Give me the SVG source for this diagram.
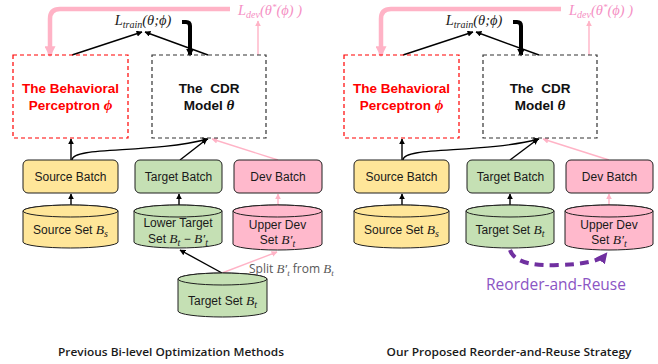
<svg xmlns="http://www.w3.org/2000/svg" width="658" height="364" viewBox="0 0 658 364">
<defs>
<style>
.sans{font-family:"Liberation Sans",Arial,sans-serif;}
.m{font-family:"Liberation Serif","DejaVu Serif",serif;font-style:italic;}
.lbl{font-family:"Liberation Sans",Arial,sans-serif;font-size:12px;fill:#1a1a1a;text-anchor:middle;}
.big{font-family:"Liberation Sans",Arial,sans-serif;font-size:13.5px;font-weight:bold;text-anchor:middle;}
.dbox{fill:none;stroke-width:1.2;stroke-dasharray:4,3;}
.yel{fill:#FFE699;stroke:#1f1f1f;stroke-width:1;}
.grn{fill:#C5E0B4;stroke:#1f1f1f;stroke-width:1;}
.pnk{fill:#FFB9CC;stroke:#1f1f1f;stroke-width:1;}
.bl{fill:none;stroke:#000;stroke-width:1.4;}
.pl{fill:none;stroke:#FFB3C6;stroke-width:1.4;}
.cap{font-family:"Open Sans","Liberation Sans",sans-serif;font-size:11.5px;font-weight:600;fill:#1a1a1a;text-anchor:middle;}
</style>
<marker id="ab" viewBox="0 0 10 10" refX="9" refY="5" markerWidth="6" markerHeight="6" orient="auto" markerUnits="userSpaceOnUse"><path d="M0,0 L10,5 L0,10 z" fill="#000"/></marker>
<marker id="ap" viewBox="0 0 10 10" refX="9" refY="5" markerWidth="6" markerHeight="6" orient="auto" markerUnits="userSpaceOnUse"><path d="M0,0 L10,5 L0,10 z" fill="#FFB3C6"/></marker>
<marker id="apb" viewBox="0 0 10 10" refX="8" refY="5" markerWidth="11" markerHeight="11" orient="auto" markerUnits="userSpaceOnUse"><path d="M0,0 L10,5 L0,10 z" fill="#FFB3C6"/></marker>
<marker id="abb" viewBox="0 0 10 10" refX="8" refY="5" markerWidth="8" markerHeight="8" orient="auto" markerUnits="userSpaceOnUse"><path d="M0,0 L10,5 L0,10 z" fill="#000"/></marker>
<marker id="av" viewBox="0 0 10 10" refX="8" refY="5" markerWidth="11" markerHeight="11" orient="auto" markerUnits="userSpaceOnUse"><path d="M0,0 L10,5 L0,10 z" fill="#7030A0"/></marker>
</defs>
<rect width="658" height="364" fill="#fff"/>

<!-- LEFT PANEL -->
<g id="left-connectors">
<path class="bl" d="M72,55 L142,32" marker-end="url(#ab)"/>
<path class="bl" d="M208,55 L145,32" marker-end="url(#ab)"/>
<path d="M182,22 H186 Q190,22 190,26 V55" fill="none" stroke="#000" stroke-width="4" marker-end="url(#abb)"/>
<path d="M230,9 H60 Q50,9 50,19 V55" fill="none" stroke="#FFB3C6" stroke-width="4.5" marker-end="url(#apb)"/>
<path class="pl" d="M258,55 V21" marker-end="url(#ap)"/>
<path class="bl" d="M71,160 V139" marker-end="url(#ab)"/>
<path class="bl" d="M72,160 C72,146 150,154 208,139" marker-end="url(#ab)"/>
<path class="bl" d="M180,160 L207,139" marker-end="url(#ab)"/>
<path class="pl" d="M278,160 L212,139" marker-end="url(#ap)"/>
<path class="bl" d="M71,205 V194" marker-end="url(#ab)"/>
<path class="bl" d="M179,205 V194" marker-end="url(#ab)"/>
<path class="pl" d="M278,205 V194" marker-end="url(#ap)"/>
<path class="bl" d="M222,273 L180,250" marker-end="url(#ab)"/>
<path class="pl" d="M222,273 L277,252" marker-end="url(#ap)"/>
</g>

<g id="l-ltrain"><text x="143" y="25" font-size="14.5" text-anchor="middle" fill="#1a1a1a"><tspan class="m">L</tspan><tspan class="m" font-size="10" dy="3">train</tspan><tspan class="m" dy="-3">(θ;ϕ)</tspan></text></g>
<g id="l-ldev"><text x="270" y="15" font-size="14.5" text-anchor="middle" fill="#F58FC4"><tspan class="m">L</tspan><tspan class="m" font-size="10" dy="3">dev</tspan><tspan class="m" dy="-3">(θ</tspan><tspan class="m" font-size="9" dy="-5">*</tspan><tspan class="m" dy="5">(ϕ) )</tspan></text></g>

<g id="l-behav">
<rect class="dbox" x="13" y="55" width="115" height="83" stroke="#FF0000"/>
<text class="big" x="70.5" y="93" fill="#FF0000">The Behavioral</text>
<text class="big" x="70.5" y="110" fill="#FF0000">Perceptron <tspan class="m" font-weight="bold" font-size="15">ϕ</tspan></text>
</g>
<g id="l-cdr">
<rect class="dbox" x="152" y="55" width="114" height="83" stroke="#333"/>
<text class="big" x="209" y="93" fill="#111" xml:space="preserve">The  CDR</text>
<text class="big" x="209" y="110" fill="#111">Model <tspan class="m" font-weight="bold" font-size="15">θ</tspan></text>
</g>

<g id="l-srcbatch"><rect class="yel" x="23" y="160" width="95" height="33" rx="5"/><text class="lbl" x="70.5" y="181">Source Batch</text></g>
<g id="l-tgtbatch"><rect class="grn" x="135" y="160" width="87" height="33" rx="5"/><text class="lbl" x="178.5" y="181">Target Batch</text></g>
<g id="l-devbatch"><rect class="pnk" x="234" y="160" width="88" height="33" rx="5"/><text class="lbl" x="278" y="181">Dev Batch</text></g>

<g id="l-srcset">
<path class="yel" d="M23,211 A47.5,6 0 0 1 118,211 V242 A47.5,6 0 0 1 23,242 Z"/>
<ellipse class="yel" cx="70.5" cy="211" rx="47.5" ry="6"/>
<text class="lbl" x="70.5" y="234">Source Set <tspan class="m" font-size="13.5">B</tspan><tspan class="m" font-size="10" dy="3">s</tspan></text>
</g>
<g id="l-lowertgt">
<path class="grn" d="M134,211 A44,6 0 0 1 222,211 V242 A44,6 0 0 1 134,242 Z"/>
<ellipse class="grn" cx="178" cy="211" rx="44" ry="6"/>
<text class="lbl" x="178" y="227">Lower Target</text>
<text class="lbl" x="178" y="243">Set <tspan class="m" font-size="13.5">B</tspan><tspan class="m" font-size="10" dy="3">t</tspan><tspan dy="-3"> − </tspan><tspan class="m" font-size="13.5">B′</tspan><tspan class="m" font-size="10" dy="3">t</tspan></text>
</g>
<g id="l-upperdev">
<path class="pnk" d="M233,211 A44.5,6 0 0 1 322,211 V244 A44.5,6 0 0 1 233,244 Z"/>
<ellipse class="pnk" cx="277.5" cy="211" rx="44.5" ry="6"/>
<text class="lbl" x="277.5" y="229">Upper Dev</text>
<text class="lbl" x="277.5" y="244">Set <tspan class="m" font-size="13.5">B′</tspan><tspan class="m" font-size="10" dy="3">t</tspan></text>
</g>
<g id="l-tgtset">
<path class="grn" d="M178,279 A44.5,6 0 0 1 267,279 V311 A44.5,6 0 0 1 178,311 Z"/>
<ellipse class="grn" cx="222.5" cy="279" rx="44.5" ry="6"/>
<text class="lbl" x="222.5" y="305">Target Set <tspan class="m" font-size="13.5">B</tspan><tspan class="m" font-size="10" dy="3">t</tspan></text>
</g>
<g id="l-split"><text x="249" y="273" font-family="'Open Sans','Liberation Sans',sans-serif" font-size="12" fill="#595959">Split <tspan class="m" font-size="13">B′</tspan><tspan class="m" font-size="9" dy="3">t</tspan><tspan dy="-3"> from </tspan><tspan class="m" font-size="13">B</tspan><tspan class="m" font-size="9" dy="3">t</tspan></text></g>

<!-- RIGHT PANEL -->
<g id="right-connectors">
<path class="bl" d="M403,55 L473,32" marker-end="url(#ab)"/>
<path class="bl" d="M539,55 L476,32" marker-end="url(#ab)"/>
<path d="M513,22 H517 Q521,22 521,26 V55" fill="none" stroke="#000" stroke-width="4" marker-end="url(#abb)"/>
<path d="M561,9 H391 Q381,9 381,19 V55" fill="none" stroke="#FFB3C6" stroke-width="4.5" marker-end="url(#apb)"/>
<path class="pl" d="M589,55 V21" marker-end="url(#ap)"/>
<path class="bl" d="M402,160 V139" marker-end="url(#ab)"/>
<path class="bl" d="M403,160 C403,146 481,154 539,139" marker-end="url(#ab)"/>
<path class="bl" d="M510,160 L538,139" marker-end="url(#ab)"/>
<path class="pl" d="M609,160 L543,139" marker-end="url(#ap)"/>
<path class="bl" d="M402,205 V194" marker-end="url(#ab)"/>
<path class="bl" d="M510,205 V194" marker-end="url(#ab)"/>
<path class="pl" d="M609,205 V194" marker-end="url(#ap)"/>
<path d="M510,250 Q516,267 558,265 Q598,264 606,254" fill="none" stroke="#7030A0" stroke-width="4" stroke-dasharray="9,6" marker-end="url(#av)"/>
</g>

<g id="r-ltrain"><text x="474" y="25" font-size="14.5" text-anchor="middle" fill="#1a1a1a"><tspan class="m">L</tspan><tspan class="m" font-size="10" dy="3">train</tspan><tspan class="m" dy="-3">(θ;ϕ)</tspan></text></g>
<g id="r-ldev"><text x="601" y="15" font-size="14.5" text-anchor="middle" fill="#F58FC4"><tspan class="m">L</tspan><tspan class="m" font-size="10" dy="3">dev</tspan><tspan class="m" dy="-3">(θ</tspan><tspan class="m" font-size="9" dy="-5">*</tspan><tspan class="m" dy="5">(ϕ) )</tspan></text></g>

<g id="r-behav">
<rect class="dbox" x="344" y="55" width="115" height="83" stroke="#FF0000"/>
<text class="big" x="401.5" y="93" fill="#FF0000">The Behavioral</text>
<text class="big" x="401.5" y="110" fill="#FF0000">Perceptron <tspan class="m" font-weight="bold" font-size="15">ϕ</tspan></text>
</g>
<g id="r-cdr">
<rect class="dbox" x="483" y="55" width="114" height="83" stroke="#333"/>
<text class="big" x="540" y="93" fill="#111" xml:space="preserve">The  CDR</text>
<text class="big" x="540" y="110" fill="#111">Model <tspan class="m" font-weight="bold" font-size="15">θ</tspan></text>
</g>

<g id="r-srcbatch"><rect class="yel" x="354" y="160" width="95" height="33" rx="5"/><text class="lbl" x="401.5" y="181">Source Batch</text></g>
<g id="r-tgtbatch"><rect class="grn" x="467" y="160" width="87" height="33" rx="5"/><text class="lbl" x="510.5" y="181">Target Batch</text></g>
<g id="r-devbatch"><rect class="pnk" x="566" y="160" width="87" height="33" rx="5"/><text class="lbl" x="609.5" y="181">Dev Batch</text></g>

<g id="r-srcset">
<path class="yel" d="M354,211 A47.5,6 0 0 1 449,211 V242 A47.5,6 0 0 1 354,242 Z"/>
<ellipse class="yel" cx="401.5" cy="211" rx="47.5" ry="6"/>
<text class="lbl" x="401.5" y="234">Source Set <tspan class="m" font-size="13.5">B</tspan><tspan class="m" font-size="10" dy="3">s</tspan></text>
</g>
<g id="r-tgtset">
<path class="grn" d="M466,211 A44,6 0 0 1 554,211 V242 A44,6 0 0 1 466,242 Z"/>
<ellipse class="grn" cx="510" cy="211" rx="44" ry="6"/>
<text class="lbl" x="510" y="234">Target Set <tspan class="m" font-size="13.5">B</tspan><tspan class="m" font-size="10" dy="3">t</tspan></text>
</g>
<g id="r-upperdev">
<path class="pnk" d="M565,211 A44,6 0 0 1 653,211 V244 A44,6 0 0 1 565,244 Z"/>
<ellipse class="pnk" cx="609" cy="211" rx="44" ry="6"/>
<text class="lbl" x="609" y="229">Upper Dev</text>
<text class="lbl" x="609" y="244">Set <tspan class="m" font-size="13.5">B′</tspan><tspan class="m" font-size="10" dy="3">t</tspan></text>
</g>
<g id="r-reorder"><text x="556" y="290" font-family="'Open Sans','Noto Sans',sans-serif" font-size="15.5" fill="#8B55C4" text-anchor="middle">Reorder-and-Reuse</text></g>

<g id="captions">
<text class="cap" x="171" y="356" textLength="226" lengthAdjust="spacingAndGlyphs">Previous Bi-level Optimization Methods</text>
<text class="cap" x="509" y="356" textLength="245" lengthAdjust="spacingAndGlyphs">Our Proposed Reorder-and-Reuse Strategy</text>
</g>
</svg>
